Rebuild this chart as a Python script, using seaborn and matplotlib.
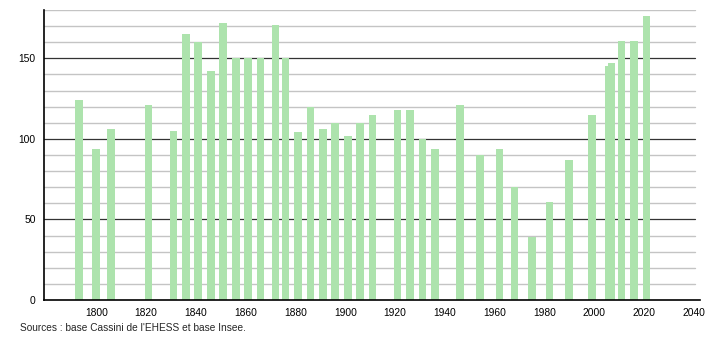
import matplotlib
matplotlib.use("Agg")
import matplotlib.pyplot as plt
import seaborn as sns
import pandas as pd
from matplotlib.ticker import MultipleLocator

years = [1793, 1800, 1806, 1821, 1831, 1836, 1841, 1846, 1851, 1856, 1861, 1866,
         1872, 1876, 1881, 1886, 1891, 1896, 1901, 1906, 1911, 1921, 1926, 1931,
         1936, 1946, 1954, 1962, 1968, 1975, 1982, 1990, 1999, 2006, 2007, 2011,
         2016, 2021]
population = [124, 94, 106, 121, 105, 165, 160, 142, 172, 150, 150, 150,
              171, 150, 104, 120, 106, 110, 102, 110, 115, 118, 118, 100,
              94, 121, 90, 94, 70, 39, 61, 87, 115, 145, 147, 161,
              161, 176]
x_ticks = [1800, 1820, 1840, 1860, 1880, 1900, 1920, 1940, 1960, 1980, 2000, 2020, 2040]
y_ticks = [0, 50, 100, 150]
source_text = "Sources : base Cassini de l'EHESS et base Insee."

df = pd.DataFrame({"year": years, "pop": population})

sns.set_style("white")
plt.rcParams["font.family"] = ["Liberation Sans", "DejaVu Sans"]

fig = plt.figure(figsize=(7.1, 3.4), dpi=100)
ax = fig.add_axes([44 / 710, 1 - 300 / 340, (700 - 44) / 710, (300 - 10) / 340])

sns.barplot(data=df, x="year", y="pop", native_scale=True, width=3.1,
            color="#ade3ad", saturation=1, ax=ax, zorder=3, edgecolor="none")

ax.set_xlim(1779, 2042.5)
ax.set_ylim(0, 180)

# grid lines
for v in range(10, 181, 10):
    if v % 50 == 0:
        ax.axhline(v, color="#333333", lw=0.9, zorder=2, xmax=(695 - 44) / (700 - 44))
    else:
        ax.axhline(v, color="#c4c4c4", lw=1.0, zorder=2, xmax=(695 - 44) / (700 - 44))

ax.set_xticks(x_ticks)
ax.set_xticklabels([str(t) for t in x_ticks])
ax.set_yticks(y_ticks)
ax.set_yticklabels([str(t) for t in y_ticks])
ax.yaxis.set_minor_locator(MultipleLocator(10))
ax.tick_params(axis="x", length=0, labelsize=7.4, pad=6, colors="#000000")
ax.tick_params(axis="y", which="major", length=4, width=1, labelsize=7.4, pad=2, colors="#000000")
ax.tick_params(axis="y", which="minor", length=3, width=0.8, colors="#000000")

for s in ["top", "right"]:
    ax.spines[s].set_visible(False)
ax.spines["left"].set_color("#000000")
ax.spines["left"].set_linewidth(1.2)
ax.spines["bottom"].set_color("#000000")
ax.spines["bottom"].set_linewidth(1.2)
ax.spines["left"].set_zorder(5)
ax.spines["bottom"].set_zorder(5)

ax.set_xlabel("")
ax.set_ylabel("")

fig.text(20 / 710, 1 - 328 / 340, source_text, fontsize=7.3, ha="left", va="center")

fig.savefig("out.png", dpi=100)
